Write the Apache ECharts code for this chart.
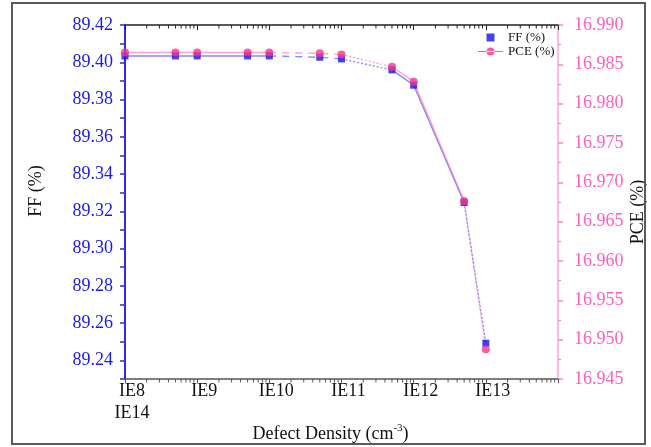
<!DOCTYPE html>
<html><head><meta charset="utf-8">
<script src="https://cdn.jsdelivr.net/npm/echarts@6/dist/echarts.min.js"></script>
<style>html,body{margin:0;padding:0;background:#fff}#c{width:651px;height:447px}</style>
</head><body><div id="c"></div>
<script>
// ---- data ----
const defectDensity = [1e8, 5e8, 1e9, 5e9, 1e10, 5e10, 1e11, 5e11, 1e12, 5e12, 1e13];
const ffValues  = [89.4034, 89.4034, 89.4034, 89.4034, 89.4034, 89.4027, 89.4018, 89.3959, 89.3877, 89.3247, 89.2492];
const pceValues = [16.9865, 16.9865, 16.9865, 16.9865, 16.9865, 16.9864, 16.98625, 16.9847, 16.9828, 16.96763, 16.94879];
const xTickExponents = [8, 9, 10, 11, 12, 13, 14];
const xTickLabels = ['IE8\nIE14', 'IE9', 'IE10', 'IE11', 'IE12', 'IE13', ''];
const ffMin = 89.23, ffMax = 89.42, ffStep = 0.01;
const pceMin = 16.945, pceMax = 16.990, pceStep = 0.005;

// ---- styles ----
const FONT = '"Liberation Serif", "Times New Roman", serif';
const BLUE = '#1414e6', PINK = '#f7358f';
const BLUE_LINE = '#4c4cf5', PINK_LINE = '#ff72b4';
const segments = [
  {from: 0, to: 4, type: 'solid'},
  {from: 4, to: 6, type: [7, 6]},
  {from: 6, to: 7, type: [2, 2]},
  {from: 7, to: 9, type: 'solid'},
  {from: 9, to: 10, type: [2, 2]}
];
function pairs(vals, a, b) {
  const out = [];
  for (let i = a; i <= b; i++) out.push([defectDensity[i], vals[i]]);
  return out;
}
function xLabel(v) {
  const e = Math.round(Math.log10(v));
  const i = xTickExponents.indexOf(e);
  return i >= 0 ? xTickLabels[i] : '';
}
// log-axis minor tick positions (2..9 x 10^k), an axis decoration
const logMinorTicks = [];
for (let k = 0; k < xTickExponents.length - 1; k++)
  for (let m = 2; m <= 9; m++) logMinorTicks.push([m * Math.pow(10, xTickExponents[k]), ffMin]);

const series = [];
segments.forEach(s => series.push({
  type: 'line', xAxisIndex: 0, yAxisIndex: 0, silent: true, symbol: 'none',
  data: pairs(ffValues, s.from, s.to),
  lineStyle: {color: BLUE_LINE, width: 1.4, type: s.type, opacity: 0.65}, z: 2
}));
segments.forEach(s => series.push({
  type: 'line', xAxisIndex: 0, yAxisIndex: 1, silent: true, symbol: 'none',
  data: pairs(pceValues, s.from, s.to),
  lineStyle: {color: PINK_LINE, width: 1.4, type: s.type, opacity: 0.65}, z: 2
}));
series.push({
  name: 'FF (%)', type: 'scatter', xAxisIndex: 0, yAxisIndex: 0,
  symbol: 'rect', symbolSize: 7, itemStyle: {color: BLUE},
  data: pairs(ffValues, 0, defectDensity.length - 1), z: 3
});
series.push({
  name: 'PCE (%)', type: 'scatter', xAxisIndex: 0, yAxisIndex: 1,
  symbol: 'circle', symbolSize: 8, itemStyle: {color: PINK},
  data: pairs(pceValues, 0, defectDensity.length - 1), z: 4
});
series.push({
  type: 'custom', xAxisIndex: 0, yAxisIndex: 0, silent: true, clip: false, z: 5,
  data: logMinorTicks,
  renderItem: function (params, api) {
    const x = api.value(0);
    const b = api.coord([x, ffMin]);
    const t = api.coord([x, ffMax]);
    return {
      type: 'group',
      children: [
        {type: 'line', shape: {x1: b[0], y1: b[1], x2: b[0], y2: b[1] + 3.5}, style: {stroke: '#555', lineWidth: 1}},
        {type: 'line', shape: {x1: t[0], y1: t[1], x2: t[0], y2: t[1] + 3.5}, style: {stroke: '#222', lineWidth: 1}}
      ]
    };
  }
});

const chart = echarts.init(document.getElementById('c'), null, {renderer: 'canvas'});
chart.setOption({
  backgroundColor: '#fff',
  animation: false,
  textStyle: {fontFamily: FONT},
  grid: {left: 125, top: 25, right: 93, bottom: 68, containLabel: false, outerBoundsMode: 'none'},
  legend: {
    orient: 'vertical', left: 478, top: 31, itemGap: 1, padding: 0,
    itemWidth: 25, itemHeight: 8,
    textStyle: {fontFamily: FONT, fontSize: 13, color: '#111'},
    data: [
      {name: 'FF (%)', icon: 'path://M0,0h8v8h-8z'},
      {name: 'PCE (%)', icon: 'path://M0,3.4h25v1.2h-25z M8.5,4a4,4 0 1,0 8,0a4,4 0 1,0 -8,0z'}
    ]
  },
  xAxis: [{
    type: 'log', logBase: 10, min: 1e8, max: 1e14, position: 'bottom',
    name: '{a|Defect Density (cm}{s|-3}{a|)}',
    nameLocation: 'middle', nameGap: 44, nameMoveOverlap: false,
    nameTextStyle: {
      padding: [0, 22, 0, 0],
      rich: {
        a: {fontFamily: FONT, fontSize: 18, color: '#111', lineHeight: 22},
        s: {fontFamily: FONT, fontSize: 11, color: '#111', verticalAlign: 'top', lineHeight: 22}
      }
    },
    axisLine: {show: true, onZero: false, lineStyle: {color: '#555', width: 1.5}},
    axisTick: {show: true, inside: false, length: 4, lineStyle: {color: '#555'}},
    splitLine: {show: false}, minorSplitLine: {show: false},
    axisLabel: {
      show: true, formatter: xLabel, fontFamily: FONT, fontSize: 18, color: '#111',
      margin: 1, lineHeight: 22, padding: [0, 0, 0, 14], showMinLabel: true, showMaxLabel: true
    }
  }, {
    type: 'log', logBase: 10, min: 1e8, max: 1e14, position: 'top',
    axisLine: {show: true, onZero: false, lineStyle: {color: '#222', width: 1.5}},
    axisTick: {show: true, inside: true, length: 5, lineStyle: {color: '#222'}},
    splitLine: {show: false}, axisLabel: {show: false}
  }],
  yAxis: [{
    type: 'value', min: ffMin, max: ffMax, interval: ffStep, position: 'left',
    name: 'FF (%)', nameLocation: 'middle', nameGap: 80, nameRotate: 90, nameMoveOverlap: false,
    nameTextStyle: {fontFamily: FONT, fontSize: 18, color: '#111', padding: [0, 0, 0, 22]},
    axisLine: {show: true, onZero: false, lineStyle: {color: '#2a2ae8', width: 2}},
    axisTick: {show: true, inside: false, length: 5, lineStyle: {color: '#2a2ae8', width: 1.5}},
    splitLine: {show: false},
    axisLabel: {
      fontFamily: FONT, fontSize: 18, color: '#1a1ae6', margin: 12,
      formatter: v => (Math.round(v * 100) % 2 === 0 ? v.toFixed(2) : '')
    }
  }, {
    type: 'value', min: pceMin, max: pceMax, interval: pceStep, position: 'right',
    name: 'PCE (%)', nameLocation: 'middle', nameGap: 71, nameRotate: 90, nameMoveOverlap: false,
    nameTextStyle: {fontFamily: FONT, fontSize: 18, color: '#111', padding: [0, 20, 0, 0]},
    axisLine: {show: true, onZero: false, lineStyle: {color: '#f7a8d4', width: 1.5}},
    axisTick: {show: true, inside: false, length: 5, lineStyle: {color: '#f08cc4', width: 1.5}},
    minorTick: {show: true, splitNumber: 2, length: 3, lineStyle: {color: '#f08cc4', width: 1.2}},
    splitLine: {show: false},
    axisLabel: {
      fontFamily: FONT, fontSize: 18, color: '#ff5fc0', margin: 16,
      formatter: v => v.toFixed(3)
    }
  }],
  graphic: [{
    type: 'rect', silent: true, z: 100,
    shape: {x: 12, y: 3, width: 633, height: 441},
    style: {fill: 'none', stroke: '#5a5a5a', lineWidth: 2}
  }],
  series: series
});
</script>
</body></html>
